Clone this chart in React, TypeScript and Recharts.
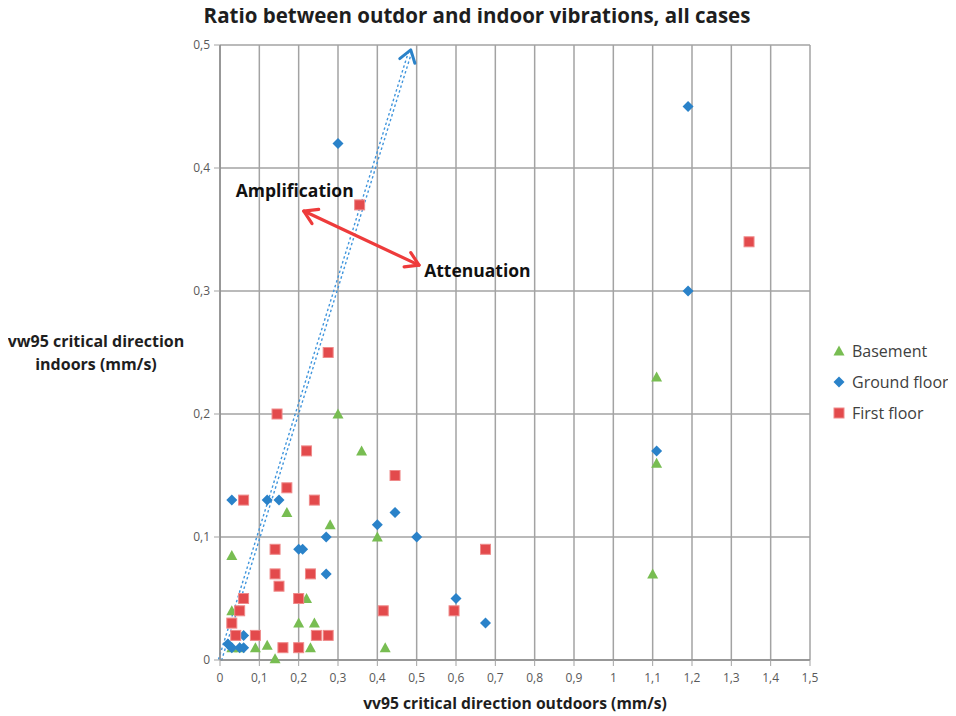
import {
  CartesianGrid,
  Legend,
  ReferenceDot,
  ReferenceLine,
  Scatter,
  ScatterChart,
  XAxis,
  YAxis,
} from "recharts";

const FONT = "'Open Sans', Lato, sans-serif";
const BLUE = "#2a82c9";
const RED = "#e34a4c";
const GREEN = "#78bd52";
const GRID = "#a3a3a3";

const xTicks = [0, 0.1, 0.2, 0.3, 0.4, 0.5, 0.6, 0.7, 0.8, 0.9, 1, 1.1, 1.2, 1.3, 1.4, 1.5];
const yTicks = [0, 0.1, 0.2, 0.3, 0.4, 0.5];

const seriesNames = ["Basement", "Ground floor", "First floor"];

// outdoor vs indoor vw95 (mm/s), one list per floor
const basement = [
  { x: 0.03, y: 0.085 }, { x: 0.03, y: 0.04 }, { x: 0.03, y: 0.01 }, { x: 0.05, y: 0.01 },
  { x: 0.09, y: 0.01 }, { x: 0.12, y: 0.012 }, { x: 0.14, y: 0.001 }, { x: 0.17, y: 0.12 },
  { x: 0.2, y: 0.03 }, { x: 0.22, y: 0.05 }, { x: 0.23, y: 0.01 }, { x: 0.24, y: 0.03 },
  { x: 0.28, y: 0.11 }, { x: 0.3, y: 0.2 }, { x: 0.36, y: 0.17 }, { x: 0.4, y: 0.1 },
  { x: 0.42, y: 0.01 }, { x: 1.1, y: 0.07 }, { x: 1.11, y: 0.16 }, { x: 1.11, y: 0.23 },
];

const groundFloor = [
  { x: 0.02, y: 0.013 }, { x: 0.03, y: 0.01 }, { x: 0.05, y: 0.01 }, { x: 0.06, y: 0.01 },
  { x: 0.06, y: 0.02 }, { x: 0.03, y: 0.13 }, { x: 0.12, y: 0.13 }, { x: 0.15, y: 0.13 },
  { x: 0.2, y: 0.09 }, { x: 0.21, y: 0.09 }, { x: 0.27, y: 0.1 }, { x: 0.27, y: 0.07 },
  { x: 0.3, y: 0.42 }, { x: 0.4, y: 0.11 }, { x: 0.445, y: 0.12 }, { x: 0.5, y: 0.1 },
  { x: 0.6, y: 0.05 }, { x: 0.675, y: 0.03 }, { x: 1.11, y: 0.17 }, { x: 1.19, y: 0.3 },
  { x: 1.19, y: 0.45 },
];

const firstFloor = [
  { x: 0.03, y: 0.03 }, { x: 0.04, y: 0.02 }, { x: 0.05, y: 0.04 }, { x: 0.06, y: 0.05 },
  { x: 0.06, y: 0.13 }, { x: 0.09, y: 0.02 }, { x: 0.14, y: 0.09 }, { x: 0.14, y: 0.07 },
  { x: 0.15, y: 0.06 }, { x: 0.145, y: 0.2 }, { x: 0.16, y: 0.01 }, { x: 0.17, y: 0.14 },
  { x: 0.2, y: 0.05 }, { x: 0.2, y: 0.01 }, { x: 0.22, y: 0.17 }, { x: 0.23, y: 0.07 },
  { x: 0.24, y: 0.13 }, { x: 0.245, y: 0.02 }, { x: 0.275, y: 0.02 }, { x: 0.275, y: 0.25 },
  { x: 0.355, y: 0.37 }, { x: 0.415, y: 0.04 }, { x: 0.445, y: 0.15 }, { x: 0.595, y: 0.04 },
  { x: 0.675, y: 0.09 }, { x: 1.345, y: 0.34 },
];

// annotation geometry in data units
const equalLine = [{ x: 0, y: 0 }, { x: 0.485, y: 0.496 }];
const gainArrow = [{ x: 0.213, y: 0.365 }, { x: 0.506, y: 0.321 }];
const notes = [
  { x: 0.04, y: 0.382, text: "Amplification" },
  { x: 0.519, y: 0.317, text: "Attenuation" },
];

const fmt = (v: number) => String(v).replace(".", ",");

const Square = (p: any) => (
  <rect x={p.cx - 5} y={p.cy - 5} width={10} height={10} fill={RED} stroke="#ef8a8a" strokeWidth={1} />
);
const Diamond = (p: any) => (
  <path d={`M${p.cx},${p.cy - 5.5}L${p.cx + 5.5},${p.cy}L${p.cx},${p.cy + 5.5}L${p.cx - 5.5},${p.cy}Z`} fill={BLUE} />
);
const Triangle = (p: any) => (
  <path d={`M${p.cx},${p.cy - 5.5}L${p.cx + 5.5},${p.cy + 4.5}L${p.cx - 5.5},${p.cy + 4.5}Z`} fill={GREEN} />
);

const markers: Record<string, (p: any) => any> = {
  Basement: Triangle,
  "Ground floor": Diamond,
  "First floor": Square,
};

// open chevron at (x,y) pointing along (ux,uy)
function chevron(x: number, y: number, ux: number, uy: number, len: number, ang: number) {
  const c = Math.cos(ang);
  const s = Math.sin(ang);
  const ax = -(ux * c - uy * s) * len;
  const ay = -(ux * s + uy * c) * len;
  const bx = -(ux * c + uy * s) * len;
  const by = -(-ux * s + uy * c) * len;
  return `M${x + ax},${y + ay}L${x},${y}L${x + bx},${y + by}`;
}

const EqualShape = (p: any) => {
  const { x1, y1, x2, y2 } = p;
  const L = Math.hypot(x2 - x1, y2 - y1);
  const ux = (x2 - x1) / L;
  const uy = (y2 - y1) / L;
  const nx = -uy * 1.6;
  const ny = ux * 1.6;
  return (
    <g>
      <line x1={x1 + nx} y1={y1 + ny} x2={x2 + nx} y2={y2 + ny} stroke="#4095dc" strokeWidth={1.4} strokeDasharray="2.5 2.5" />
      <line x1={x1 - nx} y1={y1 - ny} x2={x2 - nx} y2={y2 - ny} stroke="#4095dc" strokeWidth={1.4} strokeDasharray="2.5 2.5" />
      <path d={chevron(x2, y2, ux, uy, 14, 0.6)} fill="none" stroke={BLUE} strokeWidth={3} strokeLinecap="round" strokeLinejoin="round" />
    </g>
  );
};

const GainShape = (p: any) => {
  const { x1, y1, x2, y2 } = p;
  const L = Math.hypot(x2 - x1, y2 - y1);
  const ux = (x2 - x1) / L;
  const uy = (y2 - y1) / L;
  return (
    <g stroke="#ee3b3b" strokeWidth={3.2} fill="none" strokeLinecap="round" strokeLinejoin="round">
      <line x1={x1} y1={y1} x2={x2} y2={y2} />
      <path d={chevron(x2, y2, ux, uy, 15, 0.55)} />
      <path d={chevron(x1, y1, -ux, -uy, 15, 0.55)} />
    </g>
  );
};

const NoteText = (text: string) => (p: any) => (
  <text x={p.cx} y={p.cy} dominantBaseline="central" fontFamily={FONT} fontWeight={700} fontSize={17.5} fill="#111">
    {text}
  </text>
);

const LegendBox = () => (
  <div style={{ fontFamily: FONT, fontSize: 16, color: "#404040", whiteSpace: "nowrap" }}>
    {seriesNames.map((name) => {
      const M = markers[name];
      return (
        <div key={name} style={{ display: "flex", alignItems: "center", height: 31 }}>
          <svg width={14} height={14}>
            <M cx={7} cy={7} />
          </svg>
          <span style={{ marginLeft: 6 }}>{name}</span>
        </div>
      );
    })}
  </div>
);

const titleStyle = { fontFamily: FONT, fontWeight: 700, fill: "#1e1e1e" };

export default function App() {
  return (
    <div style={{ margin: "-8px 0 0 -8px", width: 956, height: 716 }}>
      <ScatterChart width={956} height={716} margin={{ top: 45, right: 28, bottom: 26, left: 0 }}>
        <text x={477} y={15} textAnchor="middle" dominantBaseline="central" fontSize={20.5} style={titleStyle}>
          Ratio between outdor and indoor vibrations, all cases
        </text>
        <text x={96} y={341} textAnchor="middle" dominantBaseline="central" fontSize={16} style={titleStyle}>
          vw95 critical direction
        </text>
        <text x={96} y={364} textAnchor="middle" dominantBaseline="central" fontSize={16} style={titleStyle}>
          indoors (mm/s)
        </text>
        <text x={515} y={703} textAnchor="middle" dominantBaseline="central" fontSize={15.7} style={titleStyle}>
          vv95 critical direction outdoors (mm/s)
        </text>
        <CartesianGrid stroke={GRID} strokeWidth={1.5} />
        <XAxis
          type="number"
          dataKey="x"
          domain={[0, 1.5]}
          ticks={xTicks}
          interval={0}
          height={30}
          tickFormatter={fmt}
          tick={{ fill: "#595959", fontSize: 12, fontFamily: FONT }}
          tickLine={{ stroke: GRID }}
          axisLine={{ stroke: "#8c8c8c", strokeWidth: 1.5 }}
          tickMargin={7}
        />
        <YAxis
          type="number"
          dataKey="y"
          domain={[0, 0.5]}
          ticks={yTicks}
          interval={0}
          width={220}
          tickFormatter={fmt}
          tick={{ fill: "#595959", fontSize: 12, fontFamily: FONT }}
          tickLine={{ stroke: GRID }}
          axisLine={{ stroke: "#8c8c8c", strokeWidth: 1.5 }}
          tickMargin={4}
        />
        <ReferenceLine segment={equalLine} shape={EqualShape} />
        <ReferenceLine segment={gainArrow} shape={GainShape} />
        {notes.map((n) => (
          <ReferenceDot key={n.text} x={n.x} y={n.y} r={0} shape={NoteText(n.text)} />
        ))}
        <Scatter name="Basement" data={basement} fill={GREEN} shape={Triangle} isAnimationActive={false} />
        <Scatter name="Ground floor" data={groundFloor} fill={BLUE} shape={Diamond} isAnimationActive={false} />
        <Scatter name="First floor" data={firstFloor} fill={RED} shape={Square} isAnimationActive={false} />
        <Legend
          layout="vertical"
          align="right"
          verticalAlign="top"
          content={LegendBox}
          wrapperStyle={{ left: 832, top: 335, width: 118 }}
        />
      </ScatterChart>
    </div>
  );
}
